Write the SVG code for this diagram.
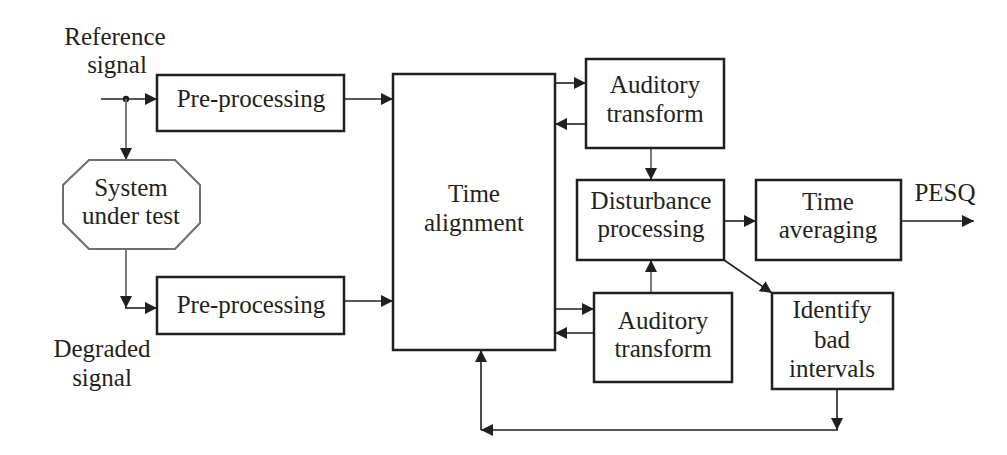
<svg xmlns="http://www.w3.org/2000/svg" width="1007" height="455" viewBox="0 0 1007 455">
<defs>
<marker id="ah" markerUnits="userSpaceOnUse" markerWidth="13" markerHeight="12" refX="12" refY="6" orient="auto">
<path d="M0,0 L12,6 L0,12 z" fill="#231f20"/>
</marker>
<style>
.box{fill:#fff;stroke:#231f20;stroke-width:2.5}
.oct{fill:#fff;stroke:#6d6e70;stroke-width:2}
.ln{fill:none;stroke:#231f20;stroke-width:1.6}
.gl{fill:none;stroke:#6d6e70;stroke-width:1.8}
.t{font-family:'Liberation Serif','DejaVu Serif',serif;font-size:25px;fill:#231f20;text-anchor:middle}
</style>
</defs>
<rect width="1007" height="455" fill="#fff"/>
<g id="connectors">
<line class="ln" x1="101" y1="99" x2="157" y2="99" marker-end="url(#ah)"/>
<circle cx="126" cy="99" r="3.2" fill="#231f20"/>
<line class="gl" x1="126" y1="99" x2="126" y2="160" marker-end="url(#ah)"/>
<line class="gl" x1="126" y1="249" x2="126" y2="308" marker-end="url(#ah)"/>
<line class="ln" x1="125" y1="308" x2="157" y2="308" marker-end="url(#ah)"/>
<line class="ln" x1="344" y1="99" x2="393" y2="99" marker-end="url(#ah)"/>
<line class="ln" x1="344" y1="301" x2="393" y2="301" marker-end="url(#ah)"/>
<line class="ln" x1="555" y1="83" x2="586" y2="83" marker-end="url(#ah)"/>
<line class="ln" x1="586" y1="124" x2="555" y2="124" marker-end="url(#ah)"/>
<line class="gl" x1="651" y1="148" x2="651" y2="180" marker-end="url(#ah)"/>
<line class="ln" x1="555" y1="309" x2="594" y2="309" marker-end="url(#ah)"/>
<line class="ln" x1="594" y1="333" x2="555" y2="333" marker-end="url(#ah)"/>
<line class="gl" x1="651" y1="293" x2="651" y2="260" marker-end="url(#ah)"/>
<line class="ln" x1="724" y1="221" x2="756" y2="221" marker-end="url(#ah)"/>
<line class="ln" x1="901" y1="221" x2="974" y2="221" marker-end="url(#ah)"/>
<line class="ln" x1="724" y1="260" x2="772" y2="293" marker-end="url(#ah)"/>
<line class="ln" x1="837" y1="389" x2="837" y2="430" marker-end="url(#ah)"/>
<line class="ln" x1="838" y1="430" x2="481" y2="430" marker-end="url(#ah)"/>
<line class="ln" x1="481" y1="430" x2="481" y2="350" marker-end="url(#ah)"/>
</g>
<g id="ref-label">
<text class="t" x="115" y="45">Reference</text>
<text class="t" x="117" y="73">signal</text>
</g>
<g id="deg-label">
<text class="t" x="102" y="357">Degraded</text>
<text class="t" x="102" y="386">signal</text>
</g>
<g id="pre1">
<rect class="box" x="157" y="75" width="187" height="56"/>
<text class="t" x="251" y="107">Pre-processing</text>
</g>
<g id="sut">
<polygon class="oct" points="89,160 175,160 200,185 200,223 175,249 89,249 63,223 63,185"/>
<text class="t" x="131" y="196">System</text>
<text class="t" x="131" y="224">under test</text>
</g>
<g id="pre2">
<rect class="box" x="157" y="277" width="187" height="57"/>
<text class="t" x="251" y="313">Pre-processing</text>
</g>
<g id="timealign">
<rect class="box" x="393" y="74" width="162" height="276"/>
<text class="t" x="474" y="202">Time</text>
<text class="t" x="474" y="231">alignment</text>
</g>
<g id="aud1">
<rect class="box" x="586" y="59" width="138" height="89"/>
<text class="t" x="655" y="93">Auditory</text>
<text class="t" x="655" y="122">transform</text>
</g>
<g id="dist">
<rect class="box" x="577" y="180" width="147" height="80"/>
<text class="t" x="651" y="209">Disturbance</text>
<text class="t" x="651" y="237">processing</text>
</g>
<g id="timeavg">
<rect class="box" x="756" y="180" width="145" height="80"/>
<text class="t" x="828" y="210">Time</text>
<text class="t" x="828" y="238">averaging</text>
</g>
<g id="pesq">
<text class="t" x="945" y="201">PESQ</text>
</g>
<g id="aud2">
<rect class="box" x="594" y="293" width="138" height="89"/>
<text class="t" x="663" y="329">Auditory</text>
<text class="t" x="663" y="357">transform</text>
</g>
<g id="identify">
<rect class="box" x="772" y="293" width="121" height="96"/>
<text class="t" x="832" y="318">Identify</text>
<text class="t" x="832" y="348">bad</text>
<text class="t" x="832" y="377">intervals</text>
</g>
</svg>
